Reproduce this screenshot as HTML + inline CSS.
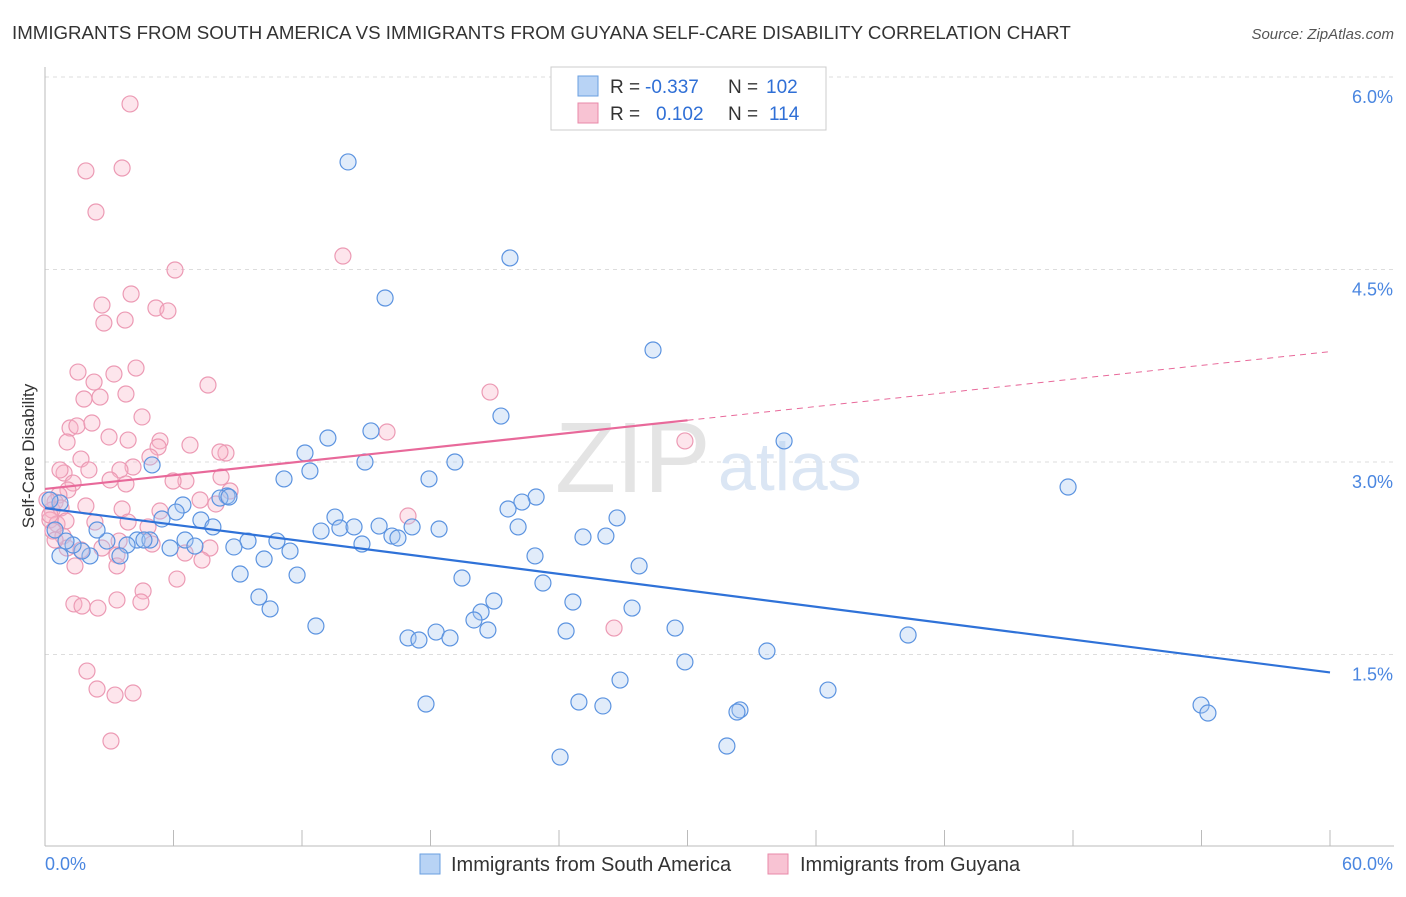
<!DOCTYPE html>
<html><head><meta charset="utf-8"><style>
body{margin:0;background:#fff;font-family:"Liberation Sans",sans-serif;}
svg text{font-family:"Liberation Sans",sans-serif;}
</style></head><body>
<svg id="chart" width="1406" height="892">
<text x="12" y="39" font-size="18.7" fill="#333">IMMIGRANTS FROM SOUTH AMERICA VS IMMIGRANTS FROM GUYANA SELF-CARE DISABILITY CORRELATION CHART</text>
<text x="1394" y="39" font-size="15" fill="#555" font-style="italic" text-anchor="end">Source: ZipAtlas.com</text>
<text x="34" y="456" font-size="17" fill="#333" text-anchor="middle" transform="rotate(-90 34 456)">Self-Care Disability</text>
<g id="grid"></g>
<text x="555" y="492" font-size="100" fill="#e4e4e4" font-family="Liberation Serif">ZIP</text>
<text x="718" y="490" font-size="68" fill="#dbe6f4">atlas</text>
<g id="marks"></g>
<g>
<rect x="551" y="67" width="275" height="63" fill="#fff" stroke="#ccc"/>
<rect x="578" y="76" width="20" height="20" fill="#b8d3f5" stroke="#6a9fe0"/>
<text x="610" y="93" font-size="19" fill="#333">R =</text><text x="645" y="93" font-size="19" fill="#2f6fd6">-0.337</text>
<text x="728" y="93" font-size="19" fill="#333">N =</text><text x="766" y="93" font-size="19" fill="#2f6fd6">102</text>
<rect x="578" y="103" width="20" height="20" fill="#f8c3d3" stroke="#e88aa8"/>
<text x="610" y="120" font-size="19" fill="#333">R =</text><text x="656" y="120" font-size="19" fill="#2f6fd6">0.102</text>
<text x="728" y="120" font-size="19" fill="#333">N =</text><text x="769" y="120" font-size="19" fill="#2f6fd6">114</text>
</g>
<g>
<rect x="420" y="854" width="20" height="20" fill="#b8d3f5" stroke="#6a9fe0"/>
<text x="451" y="871" font-size="20" fill="#333">Immigrants from South America</text>
<rect x="768" y="854" width="20" height="20" fill="#f8c3d3" stroke="#e88aa8"/>
<text x="800" y="871" font-size="20" fill="#333">Immigrants from Guyana</text>
</g>
</svg>
<script>
const xTicks=[0,60];
const yTicks=[1.5,3.0,4.5,6.0];
const bluePx=[[348,162],[510,258],[385,298],[653,350],[501,416],[784,441],[328,438],[371,431],[305,453],[365,462],[455,462],[310,471],[284,479],[429,479],[1068,487],[152,465],[536,497],[522,502],[508,509],[227,496],[220,498],[183,505],[176,512],[162,519],[201,520],[213,527],[229,497],[335,517],[321,531],[340,528],[354,527],[379,526],[412,527],[439,529],[392,536],[398,538],[518,527],[617,518],[606,536],[583,537],[362,544],[277,541],[248,541],[290,551],[234,547],[264,559],[535,556],[639,566],[240,574],[297,575],[462,578],[543,583],[259,597],[270,609],[494,601],[573,602],[632,608],[481,612],[474,620],[316,626],[675,628],[566,631],[488,630],[436,632],[408,638],[419,640],[450,638],[908,635],[767,651],[685,662],[620,680],[828,690],[579,702],[603,706],[426,704],[740,710],[737,712],[1201,705],[1208,713],[727,746],[560,757],[137,540],[127,545],[107,541],[90,556],[82,551],[60,556],[73,545],[97,530],[55,530],[66,541],[120,556],[150,540],[185,540],[195,546],[170,548],[144,540],[60,503],[50,500]];
const pinkPx=[[130,104],[86,171],[122,168],[96,212],[175,270],[343,256],[102,305],[131,294],[156,308],[168,311],[104,323],[125,320],[78,372],[136,368],[94,382],[114,374],[208,385],[490,392],[126,394],[84,399],[100,397],[142,417],[70,428],[77,426],[92,423],[67,442],[109,437],[128,440],[160,441],[190,445],[158,447],[387,432],[685,441],[226,453],[220,452],[81,459],[150,457],[133,467],[120,470],[64,473],[89,470],[186,481],[221,477],[230,491],[173,481],[110,480],[126,484],[73,483],[68,490],[59,495],[55,502],[52,510],[61,508],[86,506],[122,509],[160,511],[200,500],[216,504],[408,516],[50,520],[57,524],[66,521],[95,522],[128,522],[148,527],[53,531],[63,536],[119,541],[152,544],[102,548],[210,548],[67,548],[81,550],[117,555],[185,553],[202,560],[75,566],[117,566],[177,579],[143,591],[117,600],[74,604],[82,606],[98,608],[141,602],[614,628],[87,671],[97,689],[115,695],[133,693],[111,741],[55,540],[50,515],[47,500],[60,470]];
const toVal=p=>[+((p[0]-45)/1285*60).toFixed(2),+((847-p[1])/770*6).toFixed(3)];
const blueX=bluePx.map(p=>toVal(p)[0]), blueY=bluePx.map(p=>toVal(p)[1]);
const pinkX=pinkPx.map(p=>toVal(p)[0]), pinkY=pinkPx.map(p=>toVal(p)[1]);
const blueTrend=[2.64,1.36];
const pinkTrend=[2.79,3.86];
const X=v=>45+v/60*1285, Y=v=>847-v/6*770;
const NS="http://www.w3.org/2000/svg";
const grid=document.getElementById('grid'), marks=document.getElementById('marks');
function mk(tag,attrs,parent){const e=document.createElementNS(NS,tag);for(const k in attrs)e.setAttribute(k,attrs[k]);parent.appendChild(e);return e;}
yTicks.forEach(t=>{
 const l=mk('line',{x1:45,x2:1394,y1:Y(t),y2:Y(t),stroke:'#ddd','stroke-dasharray':'4,4'},grid);
 
 
 const tx=mk('text',{x:1393,y:Y(t)+26,'font-size':18,fill:'#4a86e0','text-anchor':'end'},grid);
 tx.textContent=t.toFixed(1)+'%';
 
 
});
const ax=mk('line',{x1:45,x2:1394,y1:846,y2:846,stroke:'#bbb'},grid);


const ay=mk('line',{x1:45,x2:45,y1:67,y2:846,stroke:'#bbb'},grid);


for(let i=0;i<=10;i++){const l=mk('line',{x1:X(i*6),x2:X(i*6),y1:830,y2:846,stroke:'#bbb'},grid);
 
 }
xTicks.forEach((t,i)=>{const tx=mk('text',{x:i?1393:45,y:870,'font-size':18,fill:'#4a86e0','text-anchor':i?'end':'start'},grid);
 tx.textContent=t.toFixed(1)+'%';
 
 });
pinkX.forEach((x,i)=>{const c=mk('circle',{cx:X(x),cy:Y(pinkY[i]),r:8,fill:'rgba(248,180,200,0.35)',stroke:'#ec9ab4','stroke-width':1.2},marks);
 
 });
blueX.forEach((x,i)=>{const c=mk('circle',{cx:X(x),cy:Y(blueY[i]),r:8,fill:'rgba(170,200,240,0.35)',stroke:'#5b93e0','stroke-width':1.2},marks);
 
 });
const pm=pinkTrend[0]+(pinkTrend[1]-pinkTrend[0])*0.5;
let l1=mk('line',{x1:X(0),y1:Y(pinkTrend[0]),x2:X(30),y2:Y(pm),stroke:'#e8699a','stroke-width':2.2},marks);


let l2=mk('line',{x1:X(30),y1:Y(pm),x2:X(60),y2:Y(pinkTrend[1]),stroke:'#e8699a','stroke-width':1,'stroke-dasharray':'6,5'},marks);


let l3=mk('line',{x1:X(0),y1:Y(blueTrend[0]),x2:X(60),y2:Y(blueTrend[1]),stroke:'#2f72d8','stroke-width':2.2},marks);


</script>
</body></html>
